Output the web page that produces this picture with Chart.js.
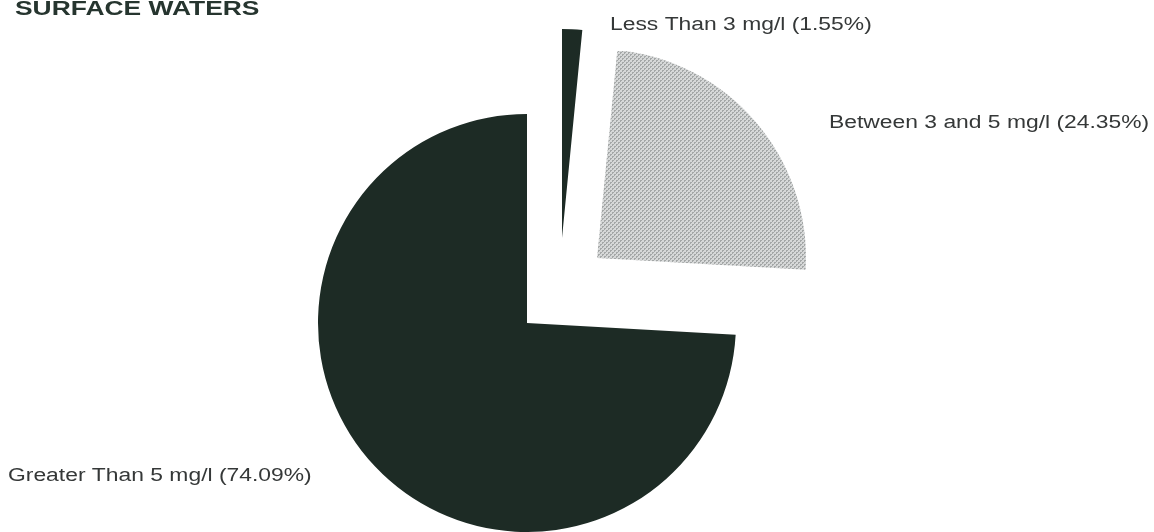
<!DOCTYPE html>
<html>
<head>
<meta charset="utf-8">
<script src="https://cdn.jsdelivr.net/npm/chart.js@4"></script>
<style>
    html, body { margin: 0; padding: 0; background: #ffffff; }
    canvas { display: block; }
</style>
</head>
<body>
<canvas id="doChart" width="1154" height="532"></canvas>
<script>

const title = "SURFACE WATERS";

const categories = ["Less Than 3 mg/l", "Between 3 and 5 mg/l", "Greater Than 5 mg/l"];

const percents = [1.55, 24.35, 74.09];

// pulled-out slices: pixel shift of each slice's centre
const explode = [[35, -85], [70, -65], [0, 0]];

// where each label sits (left x, baseline y)
const labelPos = [[610, 30], [829, 128], [8, 481]];

const darkGreen = "#1d2b25";

// fine dot screen for the middle slice
function dotPattern() {
    const c = document.createElement("canvas");
    c.width = 4;
    c.height = 4;
    const g = c.getContext("2d");
    g.fillStyle = "#d6d8d8";
    g.fillRect(0, 0, 4, 4);
    g.fillStyle = "#a4a7a7";
    g.fillRect(0, 0, 2, 1);
    g.fillRect(0, 0, 1, 2);
    g.fillRect(2, 2, 2, 1);
    g.fillRect(2, 2, 1, 2);
    return g.createPattern(c, "repeat");
}

const shiftSlices = {
    id: "shiftSlices",
    afterUpdate(chart) {
        const arcs = chart.getDatasetMeta(0).data;
        arcs.forEach((arc, i) => {
            arc.x += explode[i][0];
            arc.y += explode[i][1];
        });
    }
};

function wideText(ctx, text, x, y, font, color, sx) {
    ctx.save();
    ctx.font = font;
    ctx.fillStyle = color;
    ctx.textBaseline = "alphabetic";
    ctx.translate(x, y);
    ctx.scale(sx, 1);
    ctx.fillText(text, 0, 0);
    ctx.restore();
}

const sliceLabels = {
    id: "sliceLabels",
    afterDraw(chart) {
        const ctx = chart.ctx;
        wideText(ctx, title, 15, 15, "bold 20px 'Liberation Sans', Arial, sans-serif", "#26352f", 1.32);
        categories.forEach((name, i) => {
            const text = name + " (" + percents[i].toFixed(2) + "%)";
            wideText(ctx, text, labelPos[i][0], labelPos[i][1], "18px 'Liberation Sans', Arial, sans-serif", "#353838", 1.27);
        });
    }
};

const doChart = new Chart(document.getElementById("doChart"), {
    type: "pie",
    data: {
        labels: categories,
        datasets: [{
            data: percents,
            backgroundColor: [darkGreen, dotPattern(), darkGreen],
            borderWidth: 0
        }]
    },
    options: {
        responsive: false,
        animation: false,
        layout: {
            padding: { left: 0, right: 100, top: 114, bottom: 0 }
        },
        plugins: {
            legend: { display: false },
            tooltip: { enabled: false }
        }
    },
    plugins: [shiftSlices, sliceLabels]
});

</script>
</body>
</html>
